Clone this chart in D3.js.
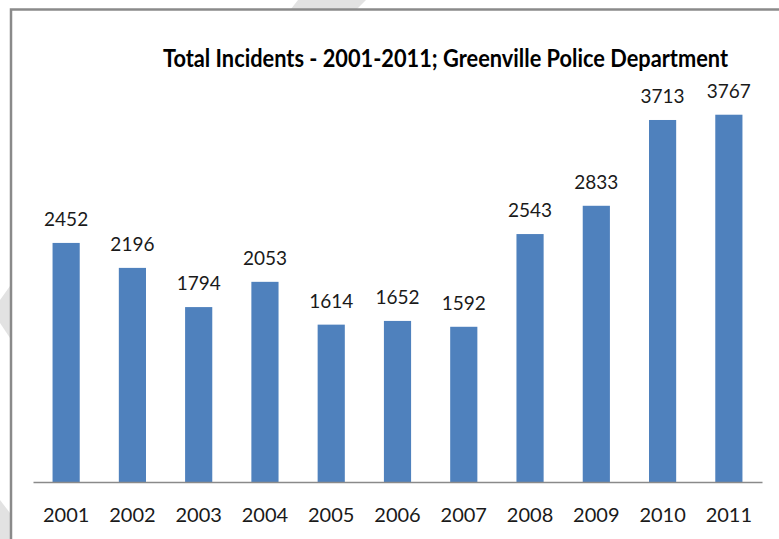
<!DOCTYPE html>
<html><head><meta charset="utf-8">
<script src="https://cdn.jsdelivr.net/npm/d3@7"></script>
<style>html,body{margin:0;padding:0;background:#fff;}svg{display:block;}</style>
</head><body>
<svg id="c" width="779" height="539"></svg>
<script>
const years = ["2001","2002","2003","2004","2005","2006","2007","2008","2009","2010","2011"];
const incidents = [2452,2196,1794,2053,1614,1652,1592,2543,2833,3713,3767];
const chartTitle = "Total Incidents - 2001-2011; Greenville Police Department";

const svg = d3.select("#c");

// background watermark stripes (outside chart frame)
const stripeColor = "#e2e2e2";
svg.append("polygon").attr("points","298,0 366,0 357,9 291,9").attr("fill",stripeColor);
svg.append("polygon").attr("points","0,300 10,286 10,338 0,323").attr("fill",stripeColor);
svg.append("polygon").attr("points","0,500 10,513 10,539 0,539").attr("fill",stripeColor);

// chart frame
svg.append("rect").attr("x",11).attr("y",9.5).attr("width",800).attr("height",600)
  .attr("fill","#fff").attr("stroke","#8a8a8a").attr("stroke-width",2.5);

const x = d3.scaleBand().domain(years).range([33,762]).paddingInner(0.59).paddingOuter(0.295);
const y = d3.scaleLinear().domain([0,4000]).range([482,92]);

const font = "Lato, 'Open Sans', sans-serif";

svg.append("g").selectAll("rect").data(years).join("rect")
  .attr("x", d => x(d)).attr("width", x.bandwidth())
  .attr("y", (d,i) => y(incidents[i])).attr("height", (d,i) => y(0) - y(incidents[i]))
  .attr("fill","#4f81bd");

// axis
const ax = svg.append("g").attr("transform",`translate(0,${y(0)})`)
  .call(d3.axisBottom(x).tickSize(0).tickPadding(26));
ax.select(".domain").attr("stroke","#8a8a8a").attr("stroke-width",1.3);
ax.selectAll("text").attr("font-family",font).attr("font-size",20).attr("fill","#1a1a1a");

// value labels
svg.append("g").selectAll("text").data(years).join("text")
  .attr("x", d => x(d) + x.bandwidth()/2)
  .attr("y", (d,i) => y(incidents[i]) - 17)
  .attr("text-anchor","middle").attr("font-family",font).attr("font-size",19).attr("fill","#1a1a1a")
  .text((d,i) => incidents[i]);

// title
const tg = svg.append("g").attr("transform","translate(445.5,67) scale(1,1.12)");
const t = tg.append("text").attr("x",0).attr("y",0).attr("text-anchor","middle")
  .attr("font-family",font).attr("font-weight","bold").attr("font-size",22).attr("fill","#000")
  .text(chartTitle);
const len = t.node().getComputedTextLength();
if (len > 0) t.attr("font-size", 22*565/len);
</script>
</body></html>
